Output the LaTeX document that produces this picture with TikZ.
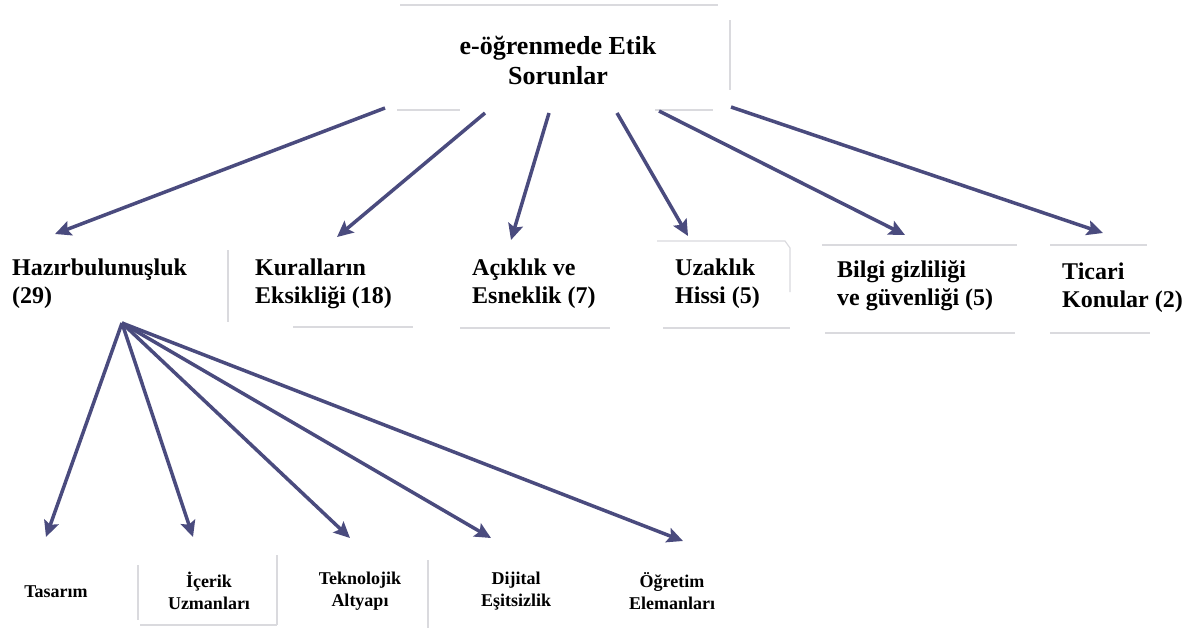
\documentclass[tikz,border=0pt]{standalone}
\usepackage{fontspec}
\setmainfont{Liberation Serif}
\usetikzlibrary{arrows.meta}
\definecolor{arrowblue}{RGB}{74,75,126}
\definecolor{faintline}{RGB}{218,218,222}
\begin{document}
\begin{tikzpicture}[x=1pt,y=-1pt,
  arr/.style={draw=arrowblue, line width=3.5pt,
    -{Stealth[length=16pt,width=15pt,inset=3pt,fill=arrowblue]}},
  titlebox/.style={font=\bfseries\fontsize{26}{30}\selectfont, align=center, inner sep=0pt},
  topic/.style={font=\bfseries\fontsize{24}{28}\selectfont, align=left, inner sep=0pt, anchor=west},
  subtopic/.style={font=\bfseries\fontsize{18}{22}\selectfont, align=center, inner sep=0pt},
  boxedge/.style={draw=faintline, line width=1.1pt}]

\fill[white] (0,0) rectangle (1190,629);
\useasboundingbox (0,0) rectangle (1190,629);

% remnants of the box outlines
\draw[boxedge] (400,5) -- (718,5);
\draw[boxedge] (397,110) -- (460,110);
\draw[boxedge] (655,110) -- (713,110);
\draw[boxedge] (730,20) -- (730,90);
\draw[boxedge] (228,250) -- (228,322);
\draw[boxedge] (293,327) -- (413,327);
\draw[boxedge] (460,328) -- (610,328);
\draw[boxedge] (657,241) -- (785,241) -- (790,248) -- (790,292);
\draw[boxedge] (663,328) -- (790,328);
\draw[boxedge] (822,245) -- (1017,245);
\draw[boxedge] (825,333) -- (1015,333);
\draw[boxedge] (1050,245) -- (1147,245);
\draw[boxedge] (1050,333) -- (1150,333);
\draw[boxedge] (138,565) -- (138,620);
\draw[boxedge] (277,555) -- (277,625);
\draw[boxedge] (140,625) -- (277,625);
\draw[boxedge] (428,560) -- (428,628);

% root
\node[titlebox] (root) at (558,60) {e-öğrenmede Etik\\Sorunlar};

% first level
\node[topic] (hazir) at (12,284) {Hazırbulunuşluk\\(29)};
\node[topic] (kural) at (255,284) {Kuralların\\Eksikliği (18)};
\node[topic] (acik)  at (472,284) {Açıklık ve\\Esneklik (7)};
\node[topic] (uzak)  at (675,284) {Uzaklık\\Hissi (5)};
\node[topic] (bilgi) at (837,286) {Bilgi gizliliği\\ve güvenliği (5)};
\node[topic] (ticari) at (1062,288) {Ticari\\Konular (2)};

% second level
\node[subtopic] (tasarim) at (56,592) {Tasarım};
\node[subtopic] (icerik)  at (209,591) {İçerik\\Uzmanları};
\node[subtopic] (tekno)   at (360,591) {Teknolojik\\Altyapı};
\node[subtopic] (dijital) at (516,591) {Dijital\\Eşitsizlik};
\node[subtopic] (ogretim) at (672,591) {Öğretim\\Elemanları};

% connector ends
\coordinate (r1) at (385,108);
\coordinate (r2) at (485,113);
\coordinate (r3) at (549,113);
\coordinate (r4) at (617,113);
\coordinate (r5) at (659,111);
\coordinate (r6) at (731,107);
\coordinate (hazir-in)  at (55,234);
\coordinate (kural-in)  at (337,237);
\coordinate (acik-in)   at (511,240);
\coordinate (uzak-in)   at (688,236);
\coordinate (bilgi-in)  at (905,235);
\coordinate (ticari-in) at (1103,233);
\coordinate (hub) at (122,323);
\coordinate (tasarim-in) at (46,537);
\coordinate (icerik-in)  at (193,537);
\coordinate (tekno-in)   at (350,538);
\coordinate (dijital-in) at (491,538);
\coordinate (ogretim-in) at (683,541);

% connectors
\draw[arr] (r1) -- (hazir-in);
\draw[arr] (r2) -- (kural-in);
\draw[arr] (r3) -- (acik-in);
\draw[arr] (r4) -- (uzak-in);
\draw[arr] (r5) -- (bilgi-in);
\draw[arr] (r6) -- (ticari-in);
\draw[arr] (hub) -- (tasarim-in);
\draw[arr] (hub) -- (icerik-in);
\draw[arr] (hub) -- (tekno-in);
\draw[arr] (hub) -- (dijital-in);
\draw[arr] (hub) -- (ogretim-in);
\end{tikzpicture}
\end{document}
